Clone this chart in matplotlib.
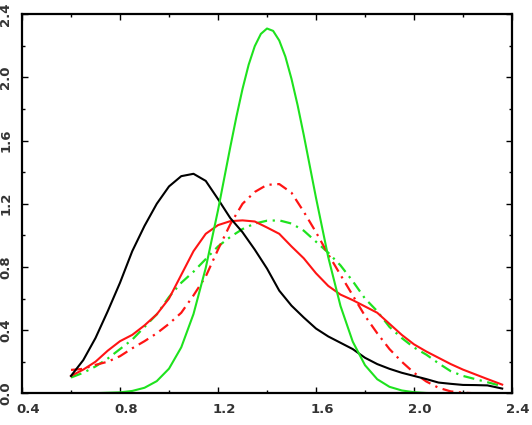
import matplotlib
matplotlib.use("Agg")
import matplotlib.pyplot as plt
import matplotlib.transforms as mtransforms
from matplotlib.ticker import MultipleLocator

# values, x step 0.05 from 0.6 to 2.35
x_grid = [0.60, 0.65, 0.70, 0.75, 0.80, 0.85, 0.90, 0.95, 1.00, 1.05,
          1.10, 1.15, 1.20, 1.25, 1.30, 1.35, 1.40, 1.45, 1.50, 1.55,
          1.60, 1.65, 1.70, 1.75, 1.80, 1.85, 1.90, 1.95, 2.00, 2.05,
          2.10, 2.15, 2.20, 2.25, 2.30, 2.36]

black_y = [0.11, 0.21, 0.35, 0.52, 0.70, 0.90, 1.06, 1.20, 1.31, 1.375,
           1.39, 1.345, 1.23, 1.11, 1.02, 0.91, 0.79, 0.65, 0.555, 0.48,
           0.41, 0.36, 0.32, 0.28, 0.225, 0.185, 0.155, 0.13, 0.11, 0.09,
           0.068, 0.06, 0.053, 0.052, 0.05, 0.03]

red_y = [0.11, 0.15, 0.20, 0.27, 0.33, 0.37, 0.43, 0.50, 0.60, 0.75,
         0.90, 1.01, 1.065, 1.09, 1.095, 1.088, 1.05, 1.01, 0.93, 0.855,
         0.76, 0.68, 0.625, 0.59, 0.55, 0.51, 0.44, 0.37, 0.31, 0.265,
         0.225, 0.185, 0.15, 0.12, 0.09, 0.055]

red_dd_y = [0.148, 0.155, 0.18, 0.20, 0.235, 0.285, 0.33, 0.38, 0.44, 0.51,
            0.62, 0.74, 0.91, 1.07, 1.20, 1.275, 1.32, 1.325, 1.27, 1.15,
            1.02, 0.88, 0.75, 0.62, 0.49, 0.38, 0.28, 0.20, 0.13, 0.075,
            0.035, 0.012, 0.004, 0.0, 0.0, 0.0]

green_dd_y = [0.10, 0.13, 0.17, 0.22, 0.28, 0.34, 0.42, 0.50, 0.61, 0.70,
              0.77, 0.85, 0.93, 0.99, 1.04, 1.075, 1.093, 1.095, 1.075, 1.03,
              0.96, 0.89, 0.81, 0.71, 0.60, 0.52, 0.42, 0.35, 0.29, 0.245,
              0.19, 0.14, 0.11, 0.09, 0.07, 0.045]

# tall green curve, a bit denser round the peak
green_x = [0.60, 0.70, 0.80, 0.85, 0.90, 0.95, 1.00, 1.05, 1.10, 1.15,
           1.20, 1.25, 1.275, 1.30, 1.325, 1.35, 1.375, 1.40, 1.425, 1.45,
           1.475, 1.50, 1.525, 1.55, 1.60, 1.65, 1.70, 1.75, 1.80, 1.85,
           1.90, 1.95, 2.00, 2.05, 2.10, 2.20, 2.36]
green_y = [0.0, 0.001, 0.006, 0.015, 0.035, 0.077, 0.156, 0.291, 0.502, 0.794,
           1.159, 1.558, 1.75, 1.927, 2.08, 2.198, 2.276, 2.31, 2.295, 2.234,
           2.132, 1.991, 1.824, 1.636, 1.238, 0.862, 0.553, 0.327, 0.178, 0.089,
           0.041, 0.018, 0.007, 0.002, 0.0, 0.0, 0.0]

GREEN = '#1ee21e'
RED = '#ff1414'

fig = plt.figure(figsize=(5.32, 4.25), dpi=100)
ax = fig.add_axes([22 / 532, 31.7 / 425, 490 / 532, 379 / 425])

ax.plot(x_grid, green_dd_y, color=GREEN, lw=1.6, dashes=(5, 2.5, 1, 2.5))
ax.plot(x_grid, red_dd_y, color=RED, lw=1.6, dashes=(5, 2.5, 1, 2.5))
ax.plot(x_grid, red_y, color=RED, lw=1.5)
ax.plot(x_grid, black_y, color='black', lw=1.5)
ax.plot(green_x, green_y, color=GREEN, lw=1.5)

ax.set_xlim(0.4, 2.4)
ax.set_ylim(0.0, 2.4)
ax.xaxis.set_major_locator(MultipleLocator(0.4))
ax.xaxis.set_minor_locator(MultipleLocator(0.2))
ax.yaxis.set_major_locator(MultipleLocator(0.4))
ax.yaxis.set_minor_locator(MultipleLocator(0.2))
ax.xaxis.set_major_formatter(plt.FormatStrFormatter('%.1f'))
ax.yaxis.set_major_formatter(plt.FormatStrFormatter('%.1f'))

ax.tick_params(which='both', direction='in', top=True, right=True, width=1.0)
ax.tick_params(which='major', length=4, pad=7, labelsize=9.5)
ax.tick_params(which='minor', length=2.5)
for sp in ax.spines.values():
    sp.set_linewidth(1.6)

for lab in ax.get_yticklabels():
    lab.set_rotation(90)
    lab.set_va('center')
    lab.set_fontweight('bold')
    lab.set_color('#333333')

# the x labels sit a little right of their ticks in the original
offset = mtransforms.ScaledTranslation(0.06, 0, fig.dpi_scale_trans)
for lab in ax.get_xticklabels():
    lab.set_transform(lab.get_transform() + offset)
    lab.set_fontweight('bold')
    lab.set_color('#333333')

fig.savefig('out.png', dpi=100)
